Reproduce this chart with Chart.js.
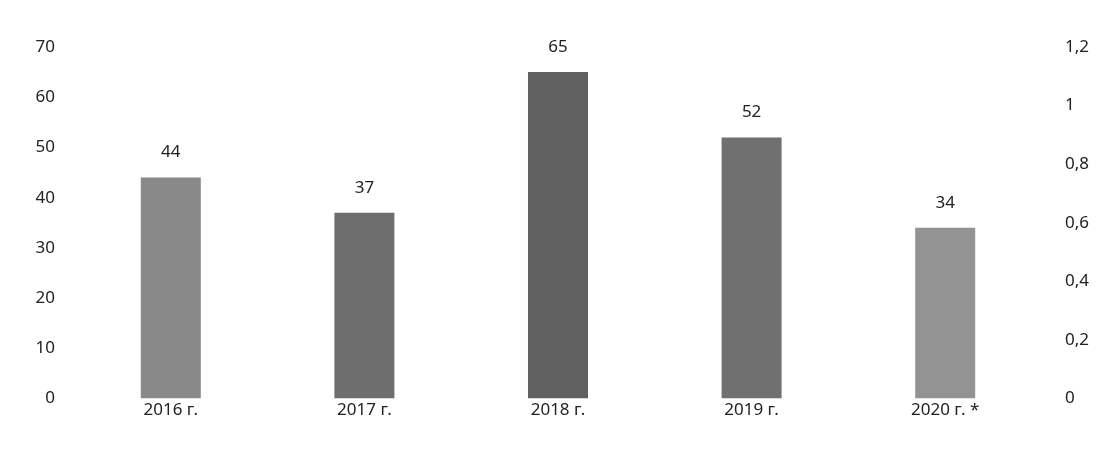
<!DOCTYPE html>
<html>
<head>
<meta charset="utf-8">
<script src="https://cdn.jsdelivr.net/npm/chart.js@4/dist/chart.umd.min.js"></script>
<style>
  html, body { margin: 0; padding: 0; background: #fff; }
  #wrap { width: 1099px; height: 450px; }
</style>
</head>
<body>
<div id="wrap"><canvas id="c"></canvas></div>
<script>
const categories = ['2016 г.', '2017 г.', '2018 г.', '2019 г.', '2020 г. *'];
const values = [44, 37, 65, 52, 34];
const barColors = ['#898989', '#6e6e6e', '#616161', '#707070', '#939393'];

const valueLabels = {
  id: 'valueLabels',
  afterDatasetsDraw(chart) {
    const ctx = chart.ctx;
    const meta = chart.getDatasetMeta(0);
    ctx.save();
    ctx.font = '17px "Noto Sans"';
    ctx.fillStyle = '#222';
    ctx.textAlign = 'center';
    ctx.textBaseline = 'middle';
    meta.data.forEach((bar, i) => {
      ctx.fillText(values[i], bar.x, bar.y - 25);
    });
    ctx.restore();
  }
};

new Chart(document.getElementById('c'), {
  type: 'bar',
  data: {
    labels: categories,
    datasets: [{
      data: values,
      backgroundColor: barColors,
      borderWidth: 0,
      barPercentage: 0.62,
      categoryPercentage: 0.5,
      yAxisID: 'y'
    }]
  },
  options: {
    responsive: true,
    maintainAspectRatio: false,
    animation: false,
    layout: { padding: { top: 47, left: 0, right: 0, bottom: 29 } },
    plugins: {
      legend: { display: false },
      tooltip: { enabled: false }
    },
    scales: {
      x: {
        grid: { display: false, drawTicks: false },
        border: { display: false },
        ticks: { color: '#222', font: { family: 'Noto Sans', size: 17 }, padding: 1 }
      },
      y: {
        position: 'left',
        min: 0, max: 70,
        grid: { display: false, drawTicks: false },
        border: { display: false },
        ticks: { stepSize: 10, color: '#222', font: { family: 'Noto Sans', size: 17 }, padding: 19 },
        afterFit: s => { s.width = 74; }
      },
      y1: {
        position: 'right',
        min: 0, max: 1.2,
        grid: { display: false, drawTicks: false },
        border: { display: false },
        ticks: {
          stepSize: 0.2, color: '#222', font: { family: 'Noto Sans', size: 17 }, padding: 23,
          callback: v => String(Math.round(v * 10) / 10).replace('.', ',')
        },
        afterFit: s => { s.width = 57; }
      }
    }
  },
  plugins: [valueLabels]
});
</script>
</body>
</html>
